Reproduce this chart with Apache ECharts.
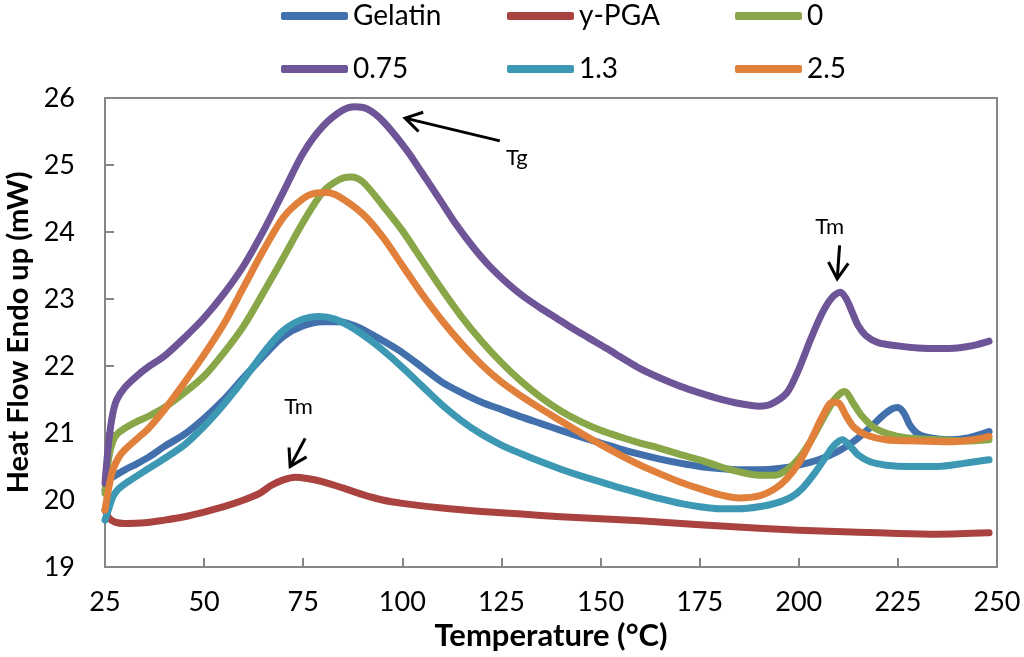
<!DOCTYPE html>
<html>
<head>
<meta charset="utf-8">
<script src="https://cdn.jsdelivr.net/npm/echarts@6/dist/echarts.min.js"></script>
<style>html,body{margin:0;padding:0;background:#fff}#c{width:1024px;height:657px}</style>
</head>
<body>
<div id="c"></div>
<script>
var xTicks = {min: 25, max: 250, interval: 25};
var yTicks = {min: 19, max: 26, interval: 1};

var gelatinT = [25, 26, 28, 30, 33, 36, 40, 45, 50, 55, 60, 65, 70, 75, 80, 84, 88, 92, 95, 100, 105, 110, 115, 120, 125, 130, 135, 140, 145, 150, 155, 160, 165, 170, 175, 180, 185, 190, 195, 200, 205, 210, 214, 218, 221, 223.5, 225, 226.5, 228, 230, 233, 238, 243, 248];
var gelatinV = [20.15, 20.3, 20.38, 20.45, 20.54, 20.64, 20.8, 20.98, 21.22, 21.5, 21.83, 22.15, 22.44, 22.6, 22.66, 22.66, 22.6, 22.48, 22.38, 22.2, 21.98, 21.76, 21.6, 21.46, 21.35, 21.24, 21.14, 21.04, 20.94, 20.85, 20.76, 20.68, 20.61, 20.55, 20.5, 20.47, 20.45, 20.45, 20.47, 20.52, 20.6, 20.73, 20.88, 21.08, 21.25, 21.36, 21.38, 21.3, 21.12, 20.99, 20.93, 20.9, 20.93, 21.02];

var pgaT = [25, 26, 27.5, 30, 35, 40, 45, 50, 55, 60, 64, 67, 70, 73, 76, 80, 85, 90, 95, 100, 110, 120, 130, 140, 150, 160, 175, 190, 200, 215, 225, 235, 248];
var pgaV = [19.85, 19.73, 19.67, 19.65, 19.66, 19.7, 19.75, 19.82, 19.9, 20.0, 20.1, 20.22, 20.3, 20.34, 20.32, 20.27, 20.18, 20.08, 20.0, 19.95, 19.88, 19.83, 19.79, 19.75, 19.72, 19.69, 19.63, 19.58, 19.55, 19.52, 19.5, 19.49, 19.51];

var s0T = [25, 26, 27, 28, 30, 33, 36, 40, 45, 50, 55, 60, 65, 70, 75, 80, 84, 87, 90, 95, 100, 105, 110, 115, 120, 125, 130, 135, 140, 145, 150, 155, 160, 165, 170, 175, 180, 185, 190, 194, 197, 200, 203, 206, 209, 211.5, 214, 216, 219, 222, 227, 235, 242, 248];
var s0V = [20.1, 20.65, 20.88, 20.98, 21.07, 21.17, 21.25, 21.38, 21.6, 21.85, 22.2, 22.6, 23.1, 23.62, 24.15, 24.6, 24.78, 24.82, 24.75, 24.4, 24.02, 23.58, 23.14, 22.73, 22.37, 22.05, 21.77, 21.53, 21.33, 21.17, 21.04, 20.94, 20.85, 20.77, 20.68, 20.6, 20.5, 20.42, 20.37, 20.37, 20.45, 20.62, 20.88, 21.2, 21.5, 21.62, 21.42, 21.25, 21.08, 21.0, 20.93, 20.9, 20.88, 20.9];

var s075T = [25, 26, 27, 28, 30, 33, 36, 40, 45, 50, 55, 60, 65, 70, 75, 80, 85, 88, 91, 95, 101, 105, 109.5, 113.5, 117.8, 122, 126.4, 130.5, 134.7, 139, 143, 147, 151.6, 156, 160, 165, 170, 175, 180, 185, 190, 193, 197, 200, 203, 206, 208.5, 210.5, 212, 213.5, 215, 217, 220, 225, 230, 235, 240, 245, 248];
var s075V = [20.25, 20.9, 21.3, 21.5, 21.68, 21.85, 21.99, 22.15, 22.42, 22.72, 23.08, 23.5, 24.02, 24.6, 25.18, 25.58, 25.82, 25.87, 25.84, 25.66, 25.23, 24.88, 24.48, 24.12, 23.78, 23.49, 23.24, 23.04, 22.87, 22.71, 22.56, 22.42, 22.26, 22.1, 21.96, 21.82, 21.7, 21.6, 21.51, 21.44, 21.4, 21.43, 21.6, 21.95, 22.4, 22.8, 23.03, 23.1, 23.0, 22.8, 22.6, 22.45, 22.35, 22.3, 22.27, 22.26, 22.27, 22.32, 22.37];

var s13T = [25, 26, 27, 28.5, 31, 36, 40, 45, 50, 55, 60, 65, 70, 75, 79, 83, 88, 92, 95, 100, 105, 110, 115, 120, 125, 130, 135, 140, 145, 150, 155, 160, 165, 170, 175, 180, 185, 190, 194, 198, 201, 204, 207, 209, 211, 213, 215, 218, 222, 228, 235, 242, 248];
var s13V = [19.7, 19.88, 20.05, 20.17, 20.28, 20.47, 20.62, 20.82, 21.1, 21.43, 21.8, 22.2, 22.53, 22.7, 22.74, 22.7, 22.55, 22.38, 22.24, 21.98, 21.7, 21.42, 21.18, 20.98, 20.82, 20.69, 20.57, 20.46, 20.36, 20.27, 20.18, 20.1, 20.02, 19.95, 19.9, 19.87, 19.87, 19.9, 19.95, 20.04, 20.18, 20.4, 20.66, 20.82, 20.9, 20.8, 20.67, 20.57, 20.52, 20.5, 20.5, 20.55, 20.6];

var s25T = [25, 26, 27, 28.5, 30, 33.6, 36, 40, 45, 50, 55, 60, 65, 70, 75, 78, 81, 84, 90, 95, 100, 105, 110, 115, 120, 125, 130, 135, 140, 145, 150, 155, 160, 165, 170, 175, 180, 185, 190, 194, 197, 200, 203, 206, 208.5, 210, 212, 214, 217, 222, 230, 238, 244, 248];
var s25V = [19.85, 20.2, 20.45, 20.64, 20.75, 20.94, 21.07, 21.35, 21.75, 22.17, 22.63, 23.18, 23.73, 24.22, 24.5, 24.58, 24.59, 24.53, 24.27, 23.93, 23.5, 23.07, 22.68, 22.33, 22.02, 21.76, 21.55, 21.36, 21.18, 21.0, 20.83, 20.67, 20.52, 20.39, 20.27, 20.17, 20.08, 20.03, 20.06, 20.17, 20.32, 20.55, 20.88, 21.25, 21.46, 21.45, 21.25, 21.08, 20.97, 20.9, 20.88, 20.87, 20.9, 20.95];

var seriesNames = ['Gelatin', 'y-PGA', '0', '0.75', '1.3', '2.5'];
var seriesColors = ['#4270AD', '#AA4340', '#89A748', '#6E5597', '#3D99B3', '#E0803A'];
var seriesT = [gelatinT, pgaT, s0T, s075T, s13T, s25T];
var seriesV = [gelatinV, pgaV, s0V, s075V, s13V, s25V];

var annTexts = [
  {text: 'Tg', at: [128.9, 25.1], from: [124.6, 25.36], to: [100.7, 25.7]},
  {text: 'Tm', at: [207.8, 24.08], from: [210.3, 23.8], to: [209.7, 23.3]},
  {text: 'Tm', at: [73.8, 21.39], from: [75.5, 20.92], to: [71.7, 20.5]}
];

var FONT = 'Lato';
var chart = echarts.init(document.getElementById('c'));

function pairs(ts, vs) { return ts.map(function (t, i) { return [t, vs[i]]; }); }

var series = seriesNames.map(function (n, i) {
  return {
    name: n, type: 'line', data: pairs(seriesT[i], seriesV[i]),
    smooth: 0.3, showSymbol: false, symbol: 'none',
    lineStyle: {width: 7, color: seriesColors[i], cap: 'round', join: 'round'},
    itemStyle: {color: seriesColors[i]},
    z: 2
  };
});

function legendCol(names, left) {
  return {
    orient: 'vertical', left: left, top: -1, padding: 0,
    itemWidth: 67, itemHeight: 8, itemGap: 19, icon: 'roundRect',
    data: names,
    textStyle: {fontFamily: FONT, fontSize: 28, color: '#000', lineHeight: 34},
    selectedMode: false
  };
}

var option = {
  animation: false,
  backgroundColor: '#fff',
  legend: [
    legendCol([seriesNames[0], seriesNames[3]], 281),
    legendCol([seriesNames[1], seriesNames[4]], 507),
    legendCol([seriesNames[2], seriesNames[5]], 735)
  ],
  grid: {left: 105, right: 27, top: 98, bottom: 90, show: true, borderColor: '#868686', borderWidth: 2, containLabel: false, outerBoundsMode: 'none'},
  xAxis: {
    type: 'value', min: xTicks.min, max: xTicks.max, interval: xTicks.interval,
    name: 'Temperature (°C)', nameLocation: 'middle', nameGap: 51,
    nameTextStyle: {fontFamily: FONT, fontSize: 31, fontWeight: 'bold', color: '#000'},
    axisLine: {show: true, lineStyle: {color: '#868686', width: 2}},
    axisTick: {show: true, inside: true, length: 9, lineStyle: {color: '#868686', width: 2}},
    axisLabel: {fontFamily: FONT, fontSize: 27, color: '#000', margin: 22},
    splitLine: {show: false}
  },
  yAxis: {
    type: 'value', min: yTicks.min, max: yTicks.max, interval: yTicks.interval,
    name: 'Heat Flow Endo up (mW)', nameLocation: 'middle', nameGap: 69,
    nameTextStyle: {fontFamily: FONT, fontSize: 29, fontWeight: 'bold', color: '#000'},
    axisLine: {show: true, lineStyle: {color: '#868686', width: 2}},
    axisTick: {show: true, inside: true, length: 9, lineStyle: {color: '#868686', width: 2}},
    axisLabel: {fontFamily: FONT, fontSize: 27, color: '#000', margin: 30},
    splitLine: {show: false}
  },
  series: series
};
chart.setOption(option);

function px(p) { return chart.convertToPixel({gridIndex: 0}, p); }
var graphics = [];
annTexts.forEach(function (a) {
  var c = px(a.at), f = px(a.from), t = px(a.to);
  graphics.push({type: 'text', x: c[0], y: c[1], style: {text: a.text, fontFamily: FONT, fontSize: 22, fill: '#000', align: 'center', verticalAlign: 'middle'}, z: 10});
  var dx = f[0] - t[0], dy = f[1] - t[1], L = Math.sqrt(dx * dx + dy * dy);
  var ux = dx / L, uy = dy / L, hl = 19, ang = 0.55;
  var c1 = Math.cos(ang), s1 = Math.sin(ang);
  var h1 = [t[0] + hl * (ux * c1 - uy * s1), t[1] + hl * (ux * s1 + uy * c1)];
  var h2 = [t[0] + hl * (ux * c1 + uy * s1), t[1] + hl * (-ux * s1 + uy * c1)];
  graphics.push({type: 'polyline', shape: {points: [f, t]}, style: {stroke: '#000', lineWidth: 3, fill: null}, z: 10});
  graphics.push({type: 'polyline', shape: {points: [h1, t, h2]}, style: {stroke: '#000', lineWidth: 3, fill: null, lineJoin: 'miter'}, z: 10});
});
chart.setOption({graphic: graphics});
</script>
</body>
</html>
